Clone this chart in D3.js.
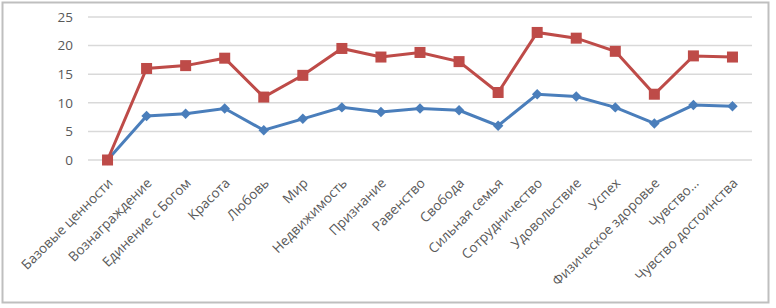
<!DOCTYPE html>
<html>
<head>
<meta charset="utf-8">
<script src="https://cdn.jsdelivr.net/npm/d3@7"></script>
<style>
  body { margin: 0; background: #fff; }
  svg { display: block; font-family: "Open Sans", "DejaVu Sans", sans-serif; }
</style>
</head>
<body>
<div id="chart"></div>
<script>
// categories and the two series
const categories = ["Базовые ценности", "Вознаграждение", "Единение с Богом", "Красота", "Любовь",
    "Мир", "Недвижимость", "Признание", "Равенство", "Свобода", "Сильная семья", "Сотрудничество",
    "Удовольствие", "Успех", "Физическое здоровье", "Чувство...", "Чувство достоинства"]
const seriesBlue = [0, 7.7, 8.1, 9, 5.2, 7.2, 9.2, 8.4, 9, 8.7, 6, 11.5, 11.1, 9.2, 6.4, 9.6, 9.4]
const seriesRed = [0, 16, 16.5, 17.8, 11, 14.8, 19.5, 18, 18.8, 17.2, 11.8, 22.3, 21.3, 19, 11.5, 18.2, 18]
const yTicks = [0, 5, 10, 15, 20, 25]

width = 776
height = 308
plotLeft = 88
plotRight = 752
plotTop = 17
plotBottom = 160

svg = d3.select("#chart")
    .append("svg")
    .attr("width", width)
    .attr("height", height)

// outer frame
svg.append("rect")
    .attr("x", 2.5).attr("y", 2.5)
    .attr("width", 766).attr("height", 300)
    .attr("fill", "#fff")
    .attr("stroke", "#bfbfbf")
    .attr("stroke-width", 2)

xScale = d3.scaleBand()
    .domain(categories)
    .range([plotLeft, plotRight])

yScale = d3.scaleLinear()
    .domain([0, 25])
    .range([plotBottom, plotTop])

// gridlines
svg.selectAll(".grid")
    .data(yTicks)
    .enter()
    .append("line")
    .attr("x1", plotLeft).attr("x2", plotRight)
    .attr("y1", (d) => yScale(d)).attr("y2", (d) => yScale(d))
    .attr("stroke", "#d9d9d9")
    .attr("stroke-width", 1.5)

// y axis labels
yAxis = d3.axisLeft(yScale).tickValues(yTicks).tickSize(0).tickPadding(15)
gy = svg.append("g")
    .attr("transform", "translate(" + plotLeft + ",0)")
    .call(yAxis)
gy.select(".domain").remove()
gy.selectAll("text")
    .attr("font-size", "13.5px")
    .attr("fill", "#595959")
    .attr("font-family", "Open Sans, sans-serif")

// x axis labels, rotated
xAxis = d3.axisBottom(xScale).tickSize(0).tickPadding(0)
gx = svg.append("g")
    .attr("transform", "translate(0," + plotBottom + ")")
    .call(xAxis)
gx.select(".domain").remove()
gx.selectAll("text")
    .attr("font-size", "13.5px")
    .attr("fill", "#595959")
    .attr("font-family", "Open Sans, sans-serif")
    .attr("text-anchor", "end")
    .attr("dy", 0)
    .attr("y", 0)
    .attr("transform", "translate(6,24) rotate(-45)")

cx = (d, i) => xScale(categories[i]) + xScale.bandwidth() / 2

line = d3.line()
    .x((d, i) => xScale(categories[i]) + xScale.bandwidth() / 2)
    .y((d) => yScale(d))

// blue series
svg.append("path")
    .datum(seriesBlue)
    .attr("fill", "none")
    .attr("stroke", "#4a7ebb")
    .attr("stroke-width", 3)
    .attr("d", line)

svg.selectAll(".blue-pt")
    .data(seriesBlue)
    .enter()
    .append("path")
    .attr("d", d3.symbol().type(d3.symbolDiamond2).size(70))
    .attr("transform", (d, i) => "translate(" + cx(d, i) + "," + yScale(d) + ")")
    .attr("fill", "#4a7ebb")

// red series
svg.append("path")
    .datum(seriesRed)
    .attr("fill", "none")
    .attr("stroke", "#be4b48")
    .attr("stroke-width", 3)
    .attr("d", line)

svg.selectAll(".red-pt")
    .data(seriesRed)
    .enter()
    .append("rect")
    .attr("x", (d, i) => cx(d, i) - 5.5)
    .attr("y", (d) => yScale(d) - 5.5)
    .attr("width", 11)
    .attr("height", 11)
    .attr("fill", "#be4b48")
</script>
</body>
</html>
